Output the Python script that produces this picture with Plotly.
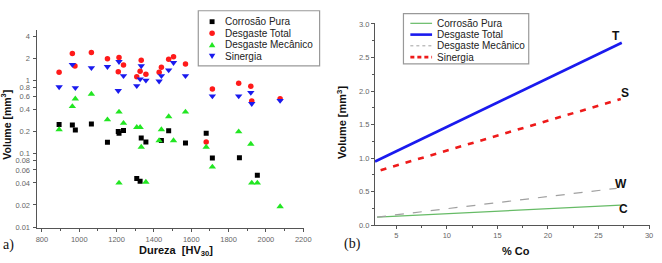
import plotly.graph_objects as go

W, H = 662, 263
def px(x): return x / W
def py(y): return 1 - y / H

# ---------------- Panel (a) data ----------------
cp_x = [892, 963, 979, 1065, 1151, 1209, 1213, 1237, 1308, 1326, 1332, 1357, 1440, 1479, 1569, 1680, 1713, 1858, 1954]
cp_y = [0.25, 0.246, 0.21, 0.254, 0.143, 0.20, 0.19, 0.207, 0.046, 0.042, 0.164, 0.144, 0.151, 0.205, 0.14, 0.19, 0.087, 0.088, 0.051]

dt_x = [892, 963, 977, 1065, 1151, 1213, 1209, 1237, 1332, 1326, 1308, 1357, 1428, 1440, 1479, 1505, 1569, 1680, 1713, 1854, 1919, 1924, 2076]
dt_y = [1.29, 2.31, 1.56, 2.39, 1.96, 2.05, 1.31, 1.62, 1.87, 1.33, 1.12, 1.21, 1.29, 1.51, 1.93, 2.09, 1.67, 0.144, 0.76, 0.91, 0.83, 0.52, 0.56]

dm_x = [892, 963, 979, 1065, 1151, 1213, 1213, 1237, 1308, 1326, 1332, 1357, 1428, 1440, 1479, 1505, 1569, 1680, 1713, 1854, 1919, 1924, 1954, 2076]
dm_y = [0.213, 0.44, 0.56, 0.65, 0.29, 0.37, 0.040, 0.26, 0.229, 0.229, 0.123, 0.041, 0.151, 0.213, 0.32, 0.151, 0.37, 0.123, 0.066, 0.199, 0.135, 0.040, 0.040, 0.019]

sn_x = [892, 963, 979, 1065, 1151, 1213, 1209, 1237, 1332, 1326, 1308, 1357, 1428, 1440, 1479, 1505, 1569, 1713, 1854, 1919, 1924, 2076]
sn_y = [0.81, 1.64, 0.79, 1.48, 1.53, 1.79, 0.72, 1.15, 1.57, 1.04, 0.84, 1.0, 0.97, 1.15, 1.38, 1.74, 1.15, 0.61, 0.61, 0.68, 0.48, 0.53]

a_yticks = [0.01, 0.02, 0.04, 0.06, 0.08, 0.1, 0.2, 0.4, 0.6, 0.8, 1, 2, 4]
a_yticklabels = ["0.01", "0.02", "0.04", "0.06", "0.08", "0.1", "0.2", "0.4", "0.6", "0.8", "1", "2", "4"]

# ---------------- Panel (b) data ----------------
co_x = [3.1, 27.2]
c_y = [0.12, 0.30]
t_x = [2.9, 27.3]
t_y = [0.95, 2.72]
s_x = [3.45, 27.2]
s_y = [0.82, 1.88]
w_x = [3.1, 26.8]
w_y = [0.12, 0.55]

names = ["Corrosão Pura", "Desgaste Total", "Desgaste Mecânico", "Sinergia"]

FONT = "Liberation Sans, Arial, sans-serif"
TICKFONT = dict(family=FONT, size=7.5, color="#666")

fig = go.Figure()
mk = dict(line=dict(width=0))
fig.add_trace(go.Scatter(x=cp_x, y=cp_y, mode="markers", name=names[0], xaxis="x", yaxis="y",
                         marker=dict(symbol="square", size=5, color="#000000", **mk), showlegend=False))
fig.add_trace(go.Scatter(x=dt_x, y=dt_y, mode="markers", name=names[1], xaxis="x", yaxis="y",
                         marker=dict(symbol="circle", size=5.5, color="#ff1a1a", **mk), showlegend=False))
fig.add_trace(go.Scatter(x=dm_x, y=dm_y, mode="markers", name=names[2], xaxis="x", yaxis="y",
                         marker=dict(symbol="triangle-up", size=6.5, color="#22e622", **mk), showlegend=False))
fig.add_trace(go.Scatter(x=sn_x, y=sn_y, mode="markers", name=names[3], xaxis="x", yaxis="y",
                         marker=dict(symbol="triangle-down", size=6.5, color="#1a1aee", **mk), showlegend=False))

fig.add_trace(go.Scatter(x=co_x, y=c_y, mode="lines", name=names[0], xaxis="x2", yaxis="y2",
                         line=dict(color="#66bb66", width=1.3), showlegend=False))
fig.add_trace(go.Scatter(x=t_x, y=t_y, mode="lines", name=names[1], xaxis="x2", yaxis="y2",
                         line=dict(color="#1a1aee", width=2.6), showlegend=False))
fig.add_trace(go.Scatter(x=w_x, y=w_y, mode="lines", name=names[2], xaxis="x2", yaxis="y2",
                         line=dict(color="#a0a0a0", width=1.2, dash="9px,9px"), showlegend=False))
fig.add_trace(go.Scatter(x=s_x, y=s_y, mode="lines", name=names[3], xaxis="x2", yaxis="y2",
                         line=dict(color="#ee1a1a", width=2.6, dash="6px,7px"), showlegend=False))

axcommon = dict(showgrid=False, zeroline=False, showline=True, linecolor="#555", linewidth=1,
                ticks="outside", ticklen=3, tickcolor="#555", tickfont=TICKFONT, mirror=False)

fig.update_layout(
    width=W, height=H, margin=dict(l=0, r=0, t=0, b=0),
    paper_bgcolor="white", plot_bgcolor="white",
    xaxis=dict(domain=[px(36), px(307)], range=[771, 2203], anchor="y",
               tickvals=list(range(800, 2201, 200)), ticklabelstandoff=1,
               minor=dict(ticks="outside", ticklen=2, tickcolor="#555", dtick=100, tick0=800),
               **axcommon),
    yaxis=dict(domain=[py(231.5), py(27)], type="log", range=[-2.007, 0.684], anchor="x",
               tickvals=a_yticks, ticktext=a_yticklabels, ticklabelstandoff=1, **axcommon),
    xaxis2=dict(domain=[px(379), px(658)], range=[2.88, 30.1], anchor="y2",
                tickvals=[5, 10, 15, 20, 25, 30],
                minor=dict(ticks="outside", ticklen=2, tickcolor="#555", dtick=2.5, tick0=0),
                **axcommon),
    yaxis2=dict(domain=[py(229), py(20)], range=[0, 3.01], anchor="x2",
                tickvals=[0, 0.5, 1.0, 1.5, 2.0, 2.5, 3.0], tickformat=".1f",
                minor=dict(ticks="outside", ticklen=2, tickcolor="#555", dtick=0.25, tick0=0),
                **axcommon),
)

shapes = []
ann = []

# ---- legend (a) ----
shapes.append(dict(type="rect", xref="paper", yref="paper", x0=px(200), x1=px(323), y0=py(64), y1=py(7),
                   line=dict(color="#999", width=1.2), fillcolor="white", layer="above"))
rows_a = [18.3, 30.3, 42.3, 54]
mx = 214
shapes.append(dict(type="rect", xref="paper", yref="paper", x0=px(mx - 2.5), x1=px(mx + 2.5),
                   y0=py(rows_a[0] + 2.5), y1=py(rows_a[0] - 2.5), fillcolor="#000", line=dict(width=0)))
shapes.append(dict(type="circle", xref="paper", yref="paper", x0=px(mx - 2.8), x1=px(mx + 2.8),
                   y0=py(rows_a[1] + 2.8), y1=py(rows_a[1] - 2.8), fillcolor="#ff1a1a", line=dict(width=0)))
r = rows_a[2]
shapes.append(dict(type="path", xref="paper", yref="paper",
                   path=f"M {px(mx-3.3)} {py(r+2.6)} L {px(mx+3.3)} {py(r+2.6)} L {px(mx)} {py(r-3)} Z",
                   fillcolor="#22e622", line=dict(width=0)))
r = rows_a[3]
shapes.append(dict(type="path", xref="paper", yref="paper",
                   path=f"M {px(mx-3.3)} {py(r-2.6)} L {px(mx+3.3)} {py(r-2.6)} L {px(mx)} {py(r+3)} Z",
                   fillcolor="#1a1aee", line=dict(width=0)))
for i, n in enumerate(names):
    ann.append(dict(xref="paper", yref="paper", x=px(225), y=py(rows_a[i]), text=n, showarrow=False,
                    xanchor="left", yanchor="middle", font=dict(family=FONT, size=10, color="#222")))

# ---- legend (b) ----
shapes.append(dict(type="rect", xref="paper", yref="paper", x0=px(408), x1=px(535), y0=py(62), y1=py(10),
                   line=dict(color="#999", width=1.2), fillcolor="white", layer="above"))
rows_b = [20, 31.7, 43.3, 55]
lstyles = [dict(color="#66bb66", width=1.2), dict(color="#1a1aee", width=2.6),
           dict(color="#a0a0a0", width=1.0, dash="dot"), dict(color="#ee1a1a", width=2.6, dash="4px,3px")]
for i, n in enumerate(names):
    shapes.append(dict(type="line", xref="paper", yref="paper", x0=px(415), x1=px(437),
                       y0=py(rows_b[i]), y1=py(rows_b[i]), line=lstyles[i]))
    ann.append(dict(xref="paper", yref="paper", x=px(440), y=py(rows_b[i]), text=n, showarrow=False,
                    xanchor="left", yanchor="middle", font=dict(family=FONT, size=10, color="#222")))

# ---- end labels (b) ----
for txt, (x, y) in zip(["T", "S", "W", "C"], [(623, 33), (633, 92.5), (629, 186.5), (631, 212)]):
    ann.append(dict(xref="paper", yref="paper", x=px(x), y=py(y), text=f"<b>{txt}</b>", showarrow=False,
                    xanchor="center", yanchor="middle", font=dict(family=FONT, size=12, color="#111")))

# ---- axis titles ----
ann.append(dict(xref="paper", yref="paper", x=px(177), y=py(256), text="<b>Dureza  [HV<sub>30</sub>]</b>",
                showarrow=False, xanchor="center", yanchor="middle", font=dict(family=FONT, size=11, color="#111")))
ann.append(dict(xref="paper", yref="paper", x=px(522), y=py(256), text="<b>% Co</b>",
                showarrow=False, xanchor="center", yanchor="middle", font=dict(family=FONT, size=11, color="#111")))
ann.append(dict(xref="paper", yref="paper", x=px(345), y=py(123), text="<b>Volume [mm<sup>3</sup>]</b>",
                showarrow=False, xanchor="center", yanchor="middle", textangle=-90,
                font=dict(family=FONT, size=11, color="#111")))
ann.append(dict(xref="paper", yref="paper", x=px(5), y=py(125), text="<b>Volume [mm<sup>3</sup>]</b>",
                showarrow=False, xanchor="center", yanchor="middle", textangle=-90,
                font=dict(family=FONT, size=10.5, color="#111")))
ann.append(dict(xref="paper", yref="paper", x=px(0), y=py(250), text="a)", showarrow=False,
                xanchor="left", yanchor="middle", font=dict(family="Liberation Serif, Times New Roman, serif", size=14, color="#111")))
ann.append(dict(xref="paper", yref="paper", x=px(346), y=py(249), text="(b)", showarrow=False,
                xanchor="left", yanchor="middle", font=dict(family="Liberation Serif, Times New Roman, serif", size=14, color="#111")))

fig.update_layout(shapes=shapes, annotations=ann)
fig.write_html("out.html")
